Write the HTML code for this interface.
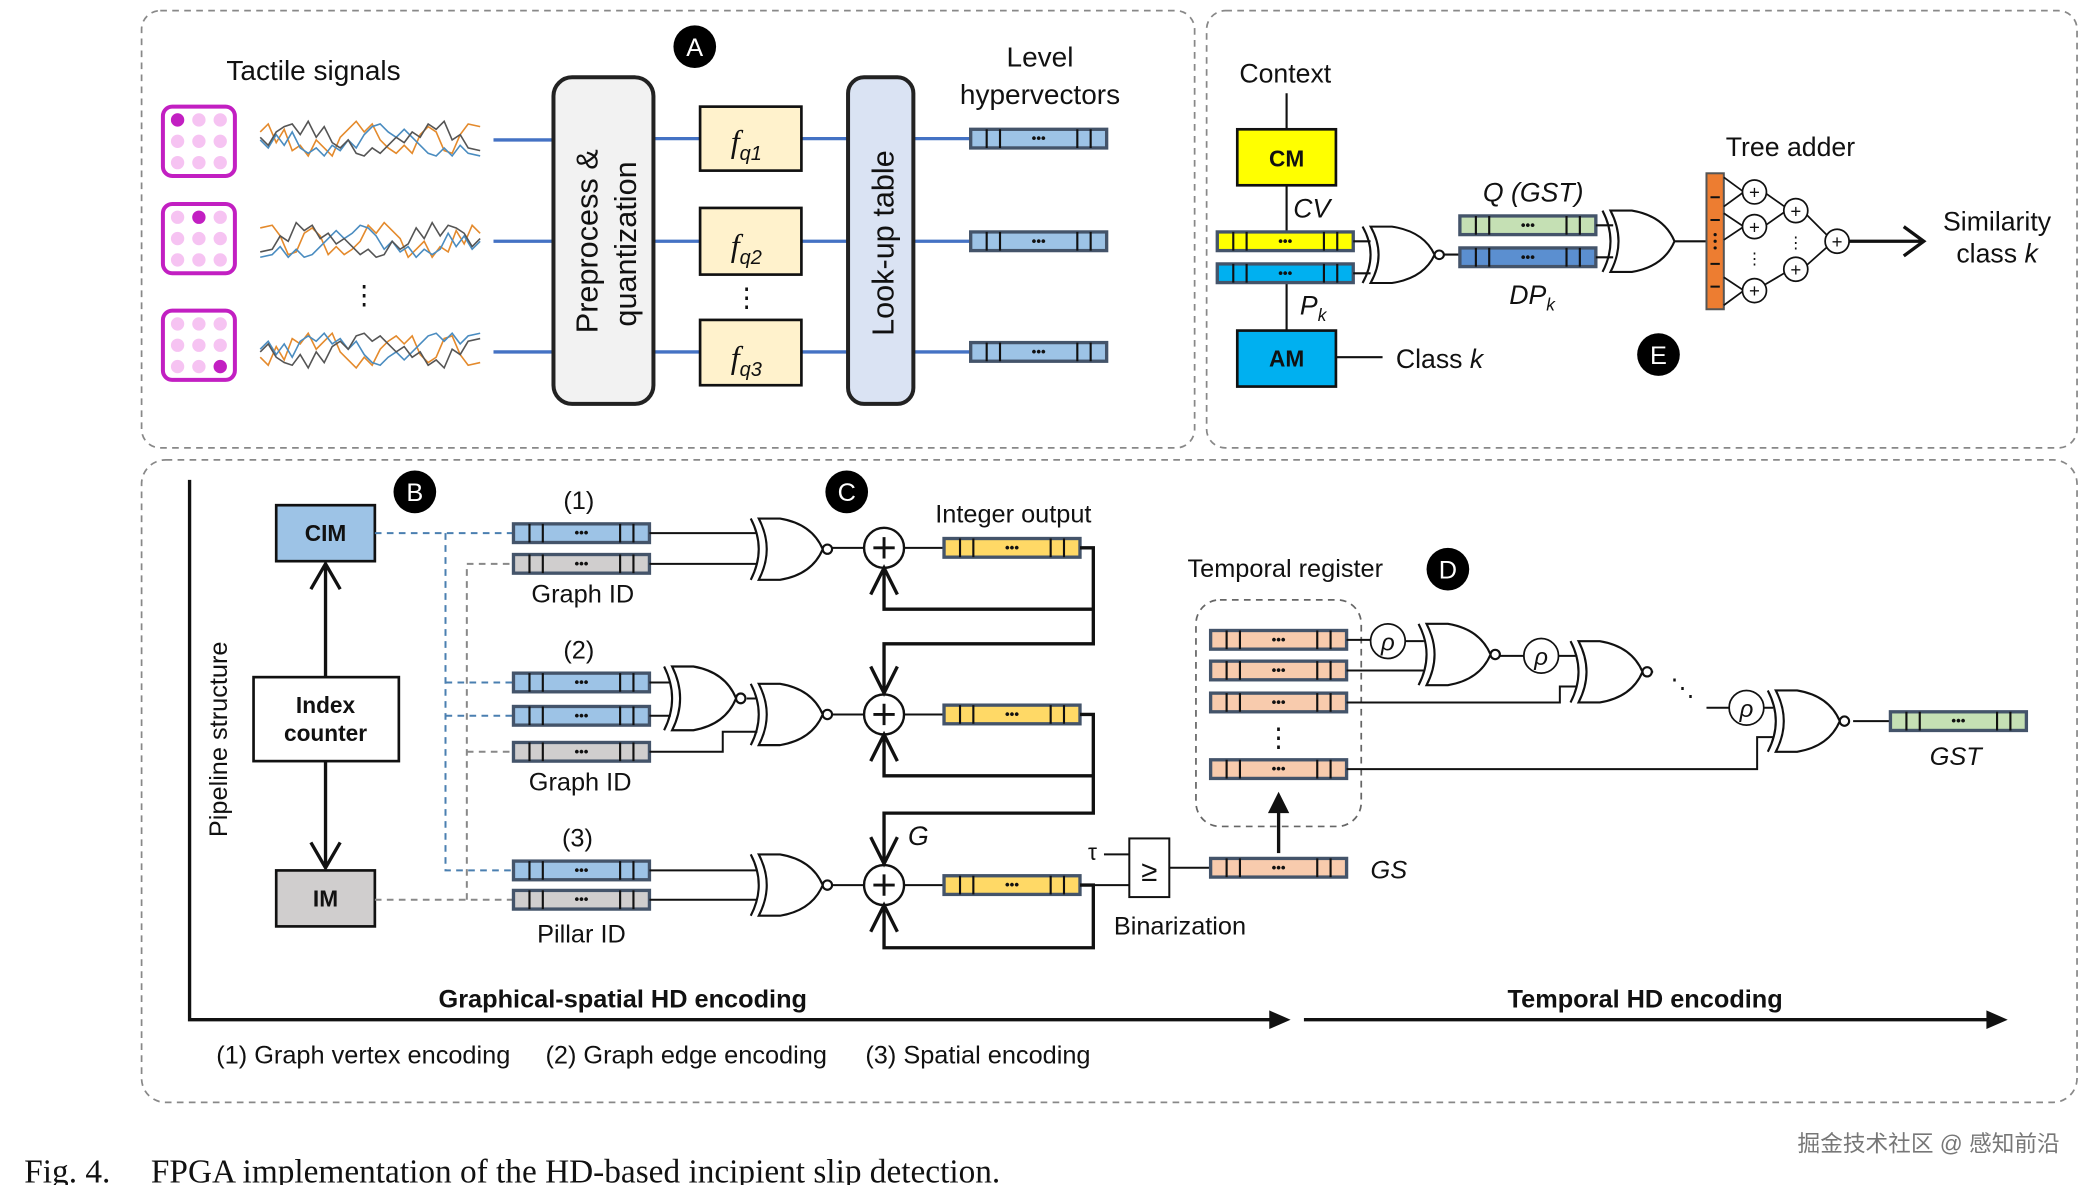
<!DOCTYPE html>
<html><head><meta charset="utf-8"><style>
html,body{margin:0;padding:0;background:#fff;}
svg{display:block;}
text{font-family:"Liberation Sans","Noto Sans CJK SC",sans-serif;fill:#111;}
.it{font-style:italic;}
.b{font-weight:bold;}
.serif{font-family:"Liberation Serif",serif;}
</style></head><body>
<svg width="2080" height="1185" viewBox="0 0 1560 889" xmlns="http://www.w3.org/2000/svg">
<defs>
<g id="reg">
<rect x="0" y="0" width="102" height="14" fill="currentColor" stroke="#44546a" stroke-width="2.5"/>
<path d="M12,0V14M22,0V14M80,0V14M90,0V14" stroke="#111" stroke-width="1.6"/>
<text x="51" y="10" font-size="10" font-weight="bold" text-anchor="middle">•••</text>
</g>
<g id="xnor" fill="none" stroke="#111" stroke-width="1.6">
<path d="M0,0 Q12,23 0,46"/>
<path d="M6,0 L22,0 Q46,4 54,23 Q46,42 22,46 L6,46 Q18,23 6,0 Z" fill="#fff"/>
<circle cx="57.5" cy="23" r="3.5" fill="#fff"/>
</g>
<g id="xor" fill="none" stroke="#111" stroke-width="1.6">
<path d="M0,0 Q12,23 0,46"/>
<path d="M6,0 L22,0 Q46,4 54,23 Q46,42 22,46 L6,46 Q18,23 6,0 Z" fill="#fff"/>
</g>
<g id="plus">
<circle cx="0" cy="0" r="15" fill="#fff" stroke="#111" stroke-width="1.8"/>
<path d="M-8,0H8M0,-8V8" stroke="#111" stroke-width="2.2"/>
</g>
<g id="sig" fill="none" stroke-width="1.2">
<polyline stroke="#e48a2c" points="0,-6 6,-12 12,2 18,-8 24,8 30,4 36,12 42,0 48,6 54,12 60,-2 66,-8 72,-14 78,-6 84,-12 90,0 96,6 102,10 108,4 114,10 120,-4 126,-10 132,-6 138,8 144,10 150,-4 156,-12 165,-10"/>
<polyline stroke="#4a8cc0" points="0,0 6,6 12,-4 18,4 24,-6 30,6 36,10 42,6 48,12 54,4 60,8 66,0 72,6 78,-4 84,-10 90,-12 96,-6 102,-2 108,-8 114,-2 120,4 126,10 132,12 138,6 144,12 150,4 156,10 165,12"/>
<polyline stroke="#555" points="0,-2 6,4 12,-6 18,-10 24,-12 30,-4 36,-14 42,-2 48,-10 54,2 60,6 66,0 72,10 78,12 84,6 90,10 96,4 102,-2 108,2 114,-6 120,-2 126,-12 132,-8 138,-14 144,0 150,-4 156,6 165,8"/>
</g>
</defs>

<rect x="106" y="8" width="790" height="328" rx="14" fill="none" stroke="#888" stroke-width="1.3" stroke-dasharray="5,4"/>
<rect x="905" y="8" width="653" height="328" rx="14" fill="none" stroke="#888" stroke-width="1.3" stroke-dasharray="5,4"/>
<rect x="106" y="345" width="1452" height="482" rx="18" fill="none" stroke="#888" stroke-width="1.3" stroke-dasharray="5,4"/>

<!-- Panel A -->
<text x="235" y="60" font-size="21" text-anchor="middle">Tactile signals</text>
<circle cx="521" cy="35" r="16" fill="#000"/><text x="521" y="42" font-size="19" text-anchor="middle" style="fill:#fff">A</text>
<g id="grid1">
<rect x="122" y="80" width="54" height="52" rx="7" fill="#fff" stroke="#c21fc2" stroke-width="3"/>
<g fill="#f6c3f2"><circle cx="133" cy="90" r="5"/><circle cx="149" cy="90" r="5"/><circle cx="165" cy="90" r="5"/><circle cx="133" cy="106" r="5"/><circle cx="149" cy="106" r="5"/><circle cx="165" cy="106" r="5"/><circle cx="133" cy="122" r="5"/><circle cx="149" cy="122" r="5"/><circle cx="165" cy="122" r="5"/></g>
</g>
<circle cx="133" cy="90" r="5" fill="#c21fc2"/>
<use href="#grid1" transform="translate(0,73)"/><circle cx="149" cy="163" r="5" fill="#c21fc2"/>
<use href="#grid1" transform="translate(0,153)"/><circle cx="165" cy="275" r="5" fill="#c21fc2"/>
<use href="#sig" transform="translate(195,105)"/>
<use href="#sig" transform="translate(360,181) scale(-1,1)"/>
<use href="#sig" transform="translate(195,262) scale(1,-1)"/>
<text x="273" y="228" font-size="20" text-anchor="middle">⋮</text>
<g stroke="#4472c4" stroke-width="2.5">
<path d="M370,105H415M370,181H415M370,264H415M490,104H525M490,181H525M490,264H525M601,104H636M601,181H636M601,264H636M685,104H728M685,181H728M685,264H728"/>
</g>
<rect x="415" y="58" width="75" height="245" rx="14" fill="#f2f2f2" stroke="#222" stroke-width="3"/>
<text transform="translate(448,250) rotate(-90)" font-size="23">Preprocess &amp;</text>
<text transform="translate(477,245) rotate(-90)" font-size="23">quantization</text>
<rect x="636" y="58" width="49" height="245" rx="12" fill="#dae3f3" stroke="#222" stroke-width="3"/>
<text transform="translate(670,252) rotate(-90)" font-size="23">Look-up table</text>
<g fill="#fff2cc" stroke="#111" stroke-width="2">
<rect x="525" y="80" width="76" height="48"/><rect x="525" y="156" width="76" height="50"/><rect x="525" y="240" width="76" height="49"/>
</g>
<text x="548" y="114" font-size="24" class="it serif">f<tspan font-size="15" dy="6" style="font-family:'Liberation Sans',sans-serif">q1</tspan></text>
<text x="548" y="192" font-size="24" class="it serif">f<tspan font-size="15" dy="6" style="font-family:'Liberation Sans',sans-serif">q2</tspan></text>
<text x="548" y="276" font-size="24" class="it serif">f<tspan font-size="15" dy="6" style="font-family:'Liberation Sans',sans-serif">q3</tspan></text>
<text x="560" y="230" font-size="20" text-anchor="middle">⋮</text>
<text x="780" y="50" font-size="21" text-anchor="middle">Level</text>
<text x="780" y="78" font-size="21" text-anchor="middle">hypervectors</text>
<use href="#reg" x="728" y="97" color="#9dc3e6"/>
<use href="#reg" x="728" y="174" color="#9dc3e6"/>
<use href="#reg" x="728" y="257" color="#9dc3e6"/>

<!-- Panel E -->
<text x="964" y="62" font-size="20" text-anchor="middle">Context</text>
<path d="M965,70V97M965,139V174M965,212V248M1002,268H1037" stroke="#111" stroke-width="1.6"/>
<rect x="928" y="97" width="74" height="42" fill="#ffff00" stroke="#111" stroke-width="2"/>
<text x="965" y="125" font-size="17" class="b" text-anchor="middle">CM</text>
<text x="970" y="163" font-size="20" class="it">CV</text>
<use href="#reg" x="913" y="174" color="#ffff00"/>
<use href="#reg" x="913" y="198" color="#00b0f0"/>
<text x="975" y="236" font-size="20" class="it">P<tspan font-size="13" dy="5">k</tspan></text>
<rect x="928" y="248" width="74" height="42" fill="#00b0f0" stroke="#111" stroke-width="2"/>
<text x="965" y="275" font-size="17" class="b" text-anchor="middle">AM</text>
<text x="1047" y="276" font-size="20">Class <tspan class="it">k</tspan></text>
<path d="M1015,181H1028M1015,205H1028" stroke="#111" stroke-width="1.6"/>
<use href="#xnor" transform="translate(1022,170) scale(1,0.92)"/>
<path d="M1083,191H1095" stroke="#111" stroke-width="1.6"/>
<text x="1150" y="151" font-size="20" class="it" text-anchor="middle">Q (GST)</text>
<use href="#reg" x="1095" y="162" color="#c5e0b4"/>
<use href="#reg" x="1095" y="186" color="#5b8fd0"/>
<text x="1132" y="228" font-size="20" class="it">DP<tspan font-size="13" dy="5">k</tspan></text>
<path d="M1197,169H1210M1197,193H1210" stroke="#111" stroke-width="1.6"/>
<use href="#xor" transform="translate(1202,158)"/>
<path d="M1256,181H1280" stroke="#111" stroke-width="1.6"/>
<rect x="1280" y="130" width="13" height="102" fill="#ed7d31" stroke="#555" stroke-width="1.5"/>
<path d="M1283,148H1290M1283,165H1290M1283,198H1290M1283,215H1290" stroke="#111" stroke-width="1.5"/>
<g fill="#111"><circle cx="1286.5" cy="176" r="1.2"/><circle cx="1286.5" cy="181" r="1.2"/><circle cx="1286.5" cy="186" r="1.2"/></g>
<g stroke="#111" stroke-width="1.3" fill="none">
<path d="M1293,133L1308,144L1293,155M1293,160L1308,170L1293,180M1293,208L1308,218L1293,229M1323,144L1340,156M1323,170L1340,158M1323,214L1340,204M1354,160L1372,178M1354,200L1372,184"/>
</g>
<circle cx="1316" cy="144" r="9" fill="#fff" stroke="#111" stroke-width="1.3"/><text x="1316" y="149" font-size="14" text-anchor="middle">+</text>
<circle cx="1316" cy="170" r="9" fill="#fff" stroke="#111" stroke-width="1.3"/><text x="1316" y="175" font-size="14" text-anchor="middle">+</text>
<circle cx="1316" cy="218" r="9" fill="#fff" stroke="#111" stroke-width="1.3"/><text x="1316" y="223" font-size="14" text-anchor="middle">+</text>
<circle cx="1347" cy="158" r="9" fill="#fff" stroke="#111" stroke-width="1.3"/><text x="1347" y="163" font-size="14" text-anchor="middle">+</text>
<circle cx="1347" cy="202" r="9" fill="#fff" stroke="#111" stroke-width="1.3"/><text x="1347" y="207" font-size="14" text-anchor="middle">+</text>
<circle cx="1378" cy="181" r="9" fill="#fff" stroke="#111" stroke-width="1.3"/><text x="1378" y="186" font-size="14" text-anchor="middle">+</text>
<text x="1316" y="198" font-size="12" text-anchor="middle">⋮</text>
<text x="1347" y="186" font-size="12" text-anchor="middle">⋮</text>
<path d="M1387,181H1443M1428,170L1443,181L1428,192" stroke="#111" stroke-width="2.5" fill="none"/>
<text x="1343" y="117" font-size="20" text-anchor="middle">Tree adder</text>
<text x="1498" y="173" font-size="20" text-anchor="middle">Similarity</text>
<text x="1498" y="197" font-size="20" text-anchor="middle">class <tspan class="it">k</tspan></text>
<circle cx="1244" cy="266" r="16" fill="#000"/><text x="1244" y="273" font-size="19" text-anchor="middle" style="fill:#fff">E</text>

<!-- Bottom panel -->
<path d="M142,360V765H955" stroke="#111" stroke-width="2.5" fill="none"/>
<path d="M952,758L968,765L952,772Z" fill="#111"/>
<path d="M978,765H1493" stroke="#111" stroke-width="2.5"/>
<path d="M1490,758L1506,765L1490,772Z" fill="#111"/>
<text transform="translate(170,628) rotate(-90)" font-size="19">Pipeline structure</text>
<text x="467" y="756" font-size="19" class="b" text-anchor="middle">Graphical-spatial HD encoding</text>
<text x="1234" y="756" font-size="19" class="b" text-anchor="middle">Temporal HD encoding</text>
<text x="162" y="798" font-size="19">(1) Graph vertex encoding</text>
<text x="409" y="798" font-size="19">(2) Graph edge encoding</text>
<text x="649" y="798" font-size="19">(3) Spatial encoding</text>

<rect x="207" y="379" width="74" height="42" fill="#9dc3e6" stroke="#111" stroke-width="2"/>
<text x="244" y="406" font-size="17" class="b" text-anchor="middle">CIM</text>
<rect x="190" y="508" width="109" height="63" fill="#fff" stroke="#111" stroke-width="2"/>
<text x="244" y="535" font-size="17" class="b" text-anchor="middle">Index</text>
<text x="244" y="556" font-size="17" class="b" text-anchor="middle">counter</text>
<rect x="207" y="653" width="74" height="42" fill="#d0cece" stroke="#111" stroke-width="2"/>
<text x="244" y="680" font-size="17" class="b" text-anchor="middle">IM</text>
<g stroke="#111" stroke-width="2.5" fill="none">
<path d="M244,508V425M233,442L244,423L255,442M244,571V650M233,632L244,651L255,632"/>
</g>
<circle cx="311" cy="369" r="16" fill="#000"/><text x="311" y="376" font-size="19" text-anchor="middle" style="fill:#fff">B</text>

<g stroke="#4a7fb0" stroke-width="1.5" stroke-dasharray="5,4" fill="none">
<path d="M281,400H385M334,400V653H385M334,512H385M334,537H385"/>
</g>
<g stroke="#888" stroke-width="1.5" stroke-dasharray="5,4" fill="none">
<path d="M281,675H385M350,675V423H385M350,564H385"/>
</g>
<use href="#reg" x="385" y="393" color="#9dc3e6"/>
<use href="#reg" x="385" y="416" color="#d0cece"/>
<use href="#reg" x="385" y="505" color="#9dc3e6"/>
<use href="#reg" x="385" y="530" color="#9dc3e6"/>
<use href="#reg" x="385" y="557" color="#d0cece"/>
<use href="#reg" x="385" y="646" color="#9dc3e6"/>
<use href="#reg" x="385" y="668" color="#d0cece"/>
<text x="434" y="382" font-size="19" text-anchor="middle">(1)</text>
<text x="437" y="452" font-size="19" text-anchor="middle">Graph ID</text>
<text x="434" y="494" font-size="19" text-anchor="middle">(2)</text>
<text x="435" y="593" font-size="19" text-anchor="middle">Graph ID</text>
<text x="433" y="635" font-size="19" text-anchor="middle">(3)</text>
<text x="436" y="707" font-size="19" text-anchor="middle">Pillar ID</text>

<g stroke="#111" stroke-width="1.5" fill="none">
<path d="M487,400H568M487,423H568M487,512H503M487,537H503M487,564H542V549H568M560,524H568M487,653H568M487,675H568"/>
<path d="M621,411H648M621,536H648M621,664H648M678,411H708M678,536H708M678,664H708"/>
</g>
<use href="#xnor" transform="translate(563,389)"/>
<use href="#xnor" transform="translate(498,500) scale(1,1.04)"/>
<use href="#xnor" transform="translate(563,513)"/>
<use href="#xnor" transform="translate(563,641)"/>
<use href="#plus" transform="translate(663,411)"/>
<use href="#plus" transform="translate(663,536)"/>
<use href="#plus" transform="translate(663,664)"/>
<use href="#reg" x="708" y="404" color="#ffd966"/>
<use href="#reg" x="708" y="529" color="#ffd966"/>
<use href="#reg" x="708" y="657" color="#ffd966"/>
<g stroke="#111" stroke-width="2.5" fill="none">
<path d="M810,411H820V483H663V518M653,500L663,520L673,500"/>
<path d="M820,457H663V428M653,446L663,426L673,446"/>
<path d="M810,536H820V610H663V646M653,628L663,648L673,628"/>
<path d="M820,582H663V553M653,571L663,551L673,571"/>
<path d="M810,664H820V711H663V681M653,699L663,679L673,699"/>
</g>
<text x="681" y="634" font-size="20" class="it">G</text>
<text x="760" y="392" font-size="19" text-anchor="middle">Integer output</text>
<circle cx="635" cy="369" r="16" fill="#000"/><text x="635" y="376" font-size="19" text-anchor="middle" style="fill:#fff">C</text>

<path d="M820,664H847M828,641H847M877,651H908" stroke="#111" stroke-width="1.5"/>
<text x="816" y="645" font-size="17">τ</text>
<rect x="847" y="629" width="30" height="44" fill="#fff" stroke="#111" stroke-width="1.5"/>
<text x="862" y="661" font-size="22" text-anchor="middle">≥</text>
<text x="885" y="701" font-size="19" text-anchor="middle">Binarization</text>
<use href="#reg" x="908" y="644" color="#f8cbad"/>
<text x="1028" y="659" font-size="19" class="it">GS</text>
<path d="M959,640V606" stroke="#111" stroke-width="2.5"/>
<path d="M951,610L959,594L967,610Z" fill="#111"/>

<rect x="897" y="450" width="124" height="170" rx="18" fill="none" stroke="#666" stroke-width="1.3" stroke-dasharray="5,4"/>
<text x="964" y="433" font-size="19" text-anchor="middle">Temporal register</text>
<circle cx="1086" cy="427" r="16" fill="#000"/><text x="1086" y="434" font-size="19" text-anchor="middle" style="fill:#fff">D</text>
<use href="#reg" x="908" y="473" color="#f8cbad"/>
<use href="#reg" x="908" y="496" color="#f8cbad"/>
<use href="#reg" x="908" y="520" color="#f8cbad"/>
<use href="#reg" x="908" y="570" color="#f8cbad"/>
<text x="959" y="560" font-size="20" text-anchor="middle">⋮</text>
<g stroke="#111" stroke-width="1.5" fill="none">
<path d="M1010,480H1028M1054,481H1068M1010,503H1068M1120,492H1143M1169,492H1183M1010,527H1170V515H1183M1235,504H1240M1280,531H1297M1323,531H1330M1010,577H1318V553H1330M1390,541H1418"/>
</g>
<use href="#xnor" transform="translate(1064,468)"/>
<use href="#xnor" transform="translate(1178,481)"/>
<use href="#xnor" transform="translate(1326,518)"/>
<g fill="#fff" stroke="#111" stroke-width="1.3">
<circle cx="1041" cy="481" r="13"/><circle cx="1156" cy="492" r="13"/><circle cx="1310" cy="531" r="13"/>
</g>
<text x="1041" y="488" font-size="18" class="it" text-anchor="middle">ρ</text>
<text x="1156" y="499" font-size="18" class="it" text-anchor="middle">ρ</text>
<text x="1310" y="538" font-size="18" class="it" text-anchor="middle">ρ</text>
<text x="1262" y="522" font-size="18" text-anchor="middle">⋱</text>
<use href="#reg" x="1418" y="534" color="#c5e0b4"/>
<text x="1467" y="574" font-size="19" class="it" text-anchor="middle">GST</text>

<!-- caption -->
<text x="18" y="887" font-size="25" class="serif">Fig. 4.</text>
<text x="113" y="887" font-size="25" class="serif">FPGA implementation of the HD-based incipient slip detection.</text>
<text x="1545" y="864" font-size="17" text-anchor="end" style="fill:#777">掘金技术社区 @ 感知前沿</text>
</svg>
</body></html>
